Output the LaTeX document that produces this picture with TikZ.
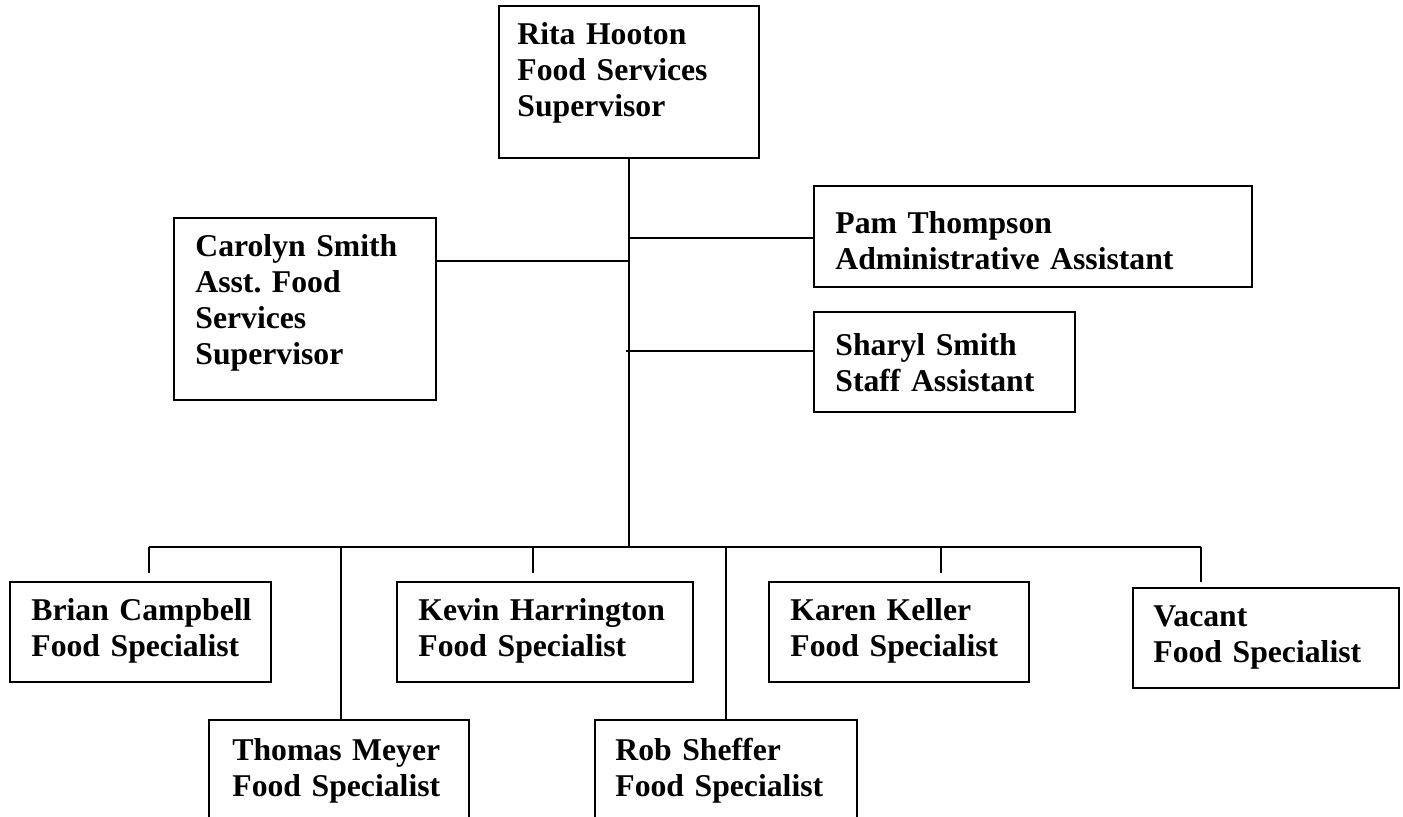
\documentclass[tikz,border=0pt]{standalone}
\usepackage{fontspec}
\setmainfont{Liberation Serif}
\begin{document}
\frenchspacing
\begin{tikzpicture}[x=0.5pt,y=-0.5pt,
  box/.style={draw=black,line width=1.2pt,anchor=north west,inner sep=0pt},
  txt/.style={anchor=base west,inner sep=0pt,align=left,text width=260pt,
    font=\fontsize{15.85}{18}\selectfont\bfseries\frenchspacing},
  conn/.style={draw=black,line width=1pt},
  bus/.style={draw=black,line width=1.4pt}]
\useasboundingbox (0,0) rectangle (1403,817);
\begin{scope}
\clip (0,0) rectangle (1403,817);
% boxes
\node[box,minimum width=130pt,minimum height=76pt] (rita) at (498,5) {};
\node[box,minimum width=131pt,minimum height=91pt] (carolyn) at (173,217) {};
\node[box,minimum width=219pt,minimum height=50.5pt] (pam) at (813,185) {};
\node[box,minimum width=130.5pt,minimum height=50pt] (sharyl) at (813,311) {};
\node[box,minimum width=130.5pt,minimum height=50pt] (brian) at (9,581) {};
\node[box,minimum width=148pt,minimum height=50pt] (kevin) at (396,581) {};
\node[box,minimum width=130pt,minimum height=50pt] (karen) at (768,581) {};
\node[box,minimum width=133pt,minimum height=50pt] (vacant) at (1132,587) {};
\node[box,minimum width=130pt,minimum height=60pt] (thomas) at (208,719) {};
\node[box,minimum width=131pt,minimum height=60pt] (rob) at (594,719) {};
\end{scope}
% texts
\node[txt] (ritaT) at (517,45) {Rita Hooton\\Food Services\\Supervisor};
\node[txt] (carolynT) at (195,257) {Carolyn Smith\\Asst. Food\\Services\\Supervisor};
\node[txt] (pamT) at (835,234) {Pam Thompson\\Administrative Assistant};
\node[txt] (sharylT) at (835,356) {Sharyl Smith\\Staff Assistant};
\node[txt] (brianT) at (31,621) {Brian Campbell\\Food Specialist};
\node[txt] (kevinT) at (418,621) {Kevin Harrington\\Food Specialist};
\node[txt] (karenT) at (790,621) {Karen Keller\\Food Specialist};
\node[txt] (vacantT) at (1153,626) {Vacant\\Food Specialist};
\node[txt] (thomasT) at (232,760) {Thomas Meyer\\Food Specialist};
\node[txt] (robT) at (615,760) {Rob Sheffer\\Food Specialist};
% junction coordinates
\coordinate (busL) at (149,547);
\coordinate (busR) at (1201,547);
\coordinate (cj) at (628,261);
\coordinate (pj) at (628,238);
\coordinate (sj) at (626,351);
\coordinate (dBrian) at (149,573);
\coordinate (dKevin) at (533,573);
\coordinate (dKaren) at (941,573);
\coordinate (dVacant) at (1201,582);
\coordinate (dThomas) at (341,719);
\coordinate (dRob) at (726,719);
% connectors
\draw[conn] (rita.south) -- (rita.south |- busL);
\draw[conn] (pj) -- (pj -| pam.west);
\draw[conn] (carolyn.east |- cj) -- (cj);
\draw[conn] (sj) -- (sj -| sharyl.west);
\draw[bus] (busL) -- (busR);
\draw[conn] (busL) -- (dBrian);
\draw[conn] (dThomas |- busL) -- (thomas.north -| dThomas);
\draw[conn] (dKevin |- busL) -- (dKevin);
\draw[conn] (dRob |- busL) -- (rob.north -| dRob);
\draw[conn] (dKaren |- busL) -- (dKaren);
\draw[conn] (busR) -- (dVacant);
\end{tikzpicture}
\end{document}
